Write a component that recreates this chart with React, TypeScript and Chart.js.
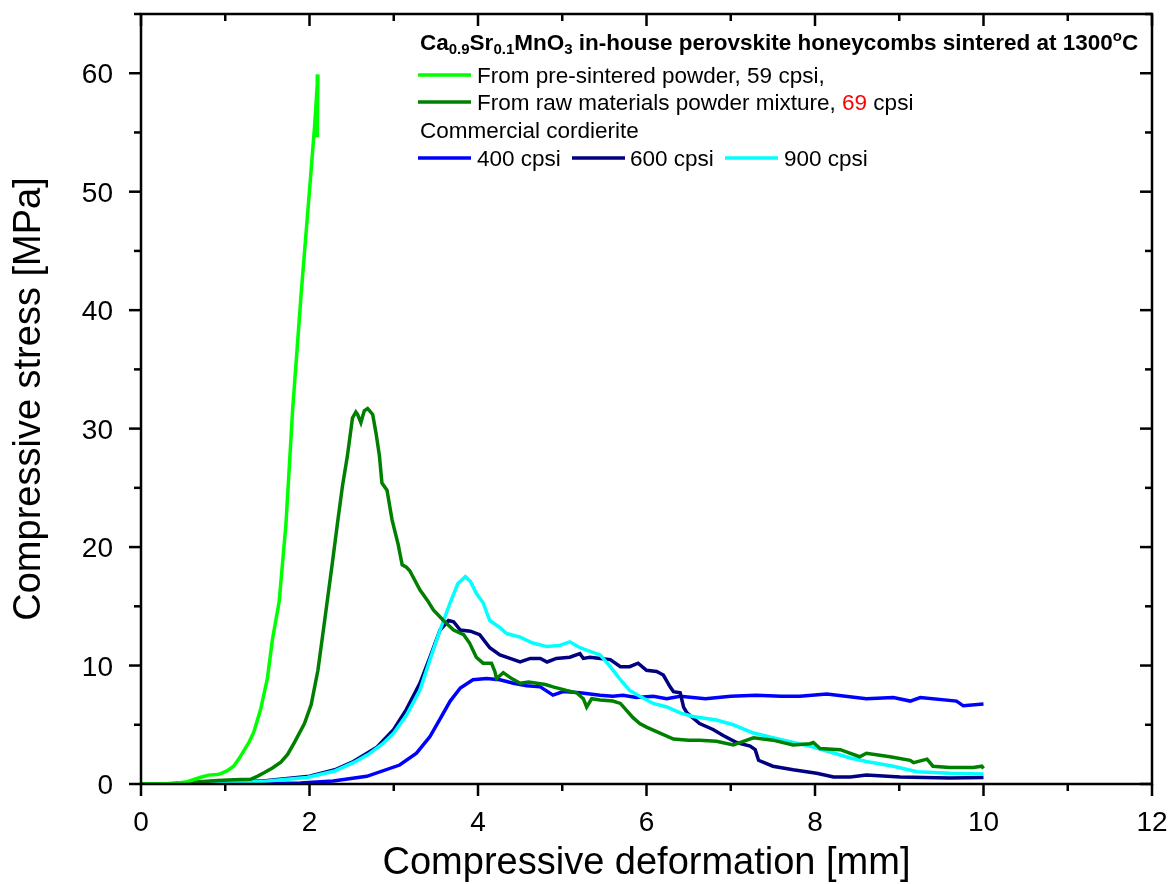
import React, { useEffect, useRef } from 'react';
import Chart from 'chart.js/auto';

// ---------- data ----------
const preSinteredX = [0, 0.2, 0.4, 0.55, 0.7, 0.8, 0.9, 0.94, 1.02, 1.1, 1.16, 1.22, 1.28, 1.34, 1.42, 1.5, 1.56, 1.64, 1.72, 1.8, 1.9, 2.01, 2.06, 2.1, 2.095, 2.09];
const preSinteredY = [0, 0, 0.05, 0.2, 0.55, 0.75, 0.8, 0.85, 1.1, 1.5, 2.1, 2.8, 3.5, 4.4, 6.3, 8.9, 12.2, 15.4, 21.9, 31.6, 41.3, 51.0, 55.5, 59.9, 57, 54.6];

const rawMixX = [0, 0.3, 0.5, 0.7, 0.9, 1.1, 1.3, 1.38, 1.46, 1.56, 1.66, 1.74, 1.82, 1.94, 2.02, 2.1, 2.18, 2.27, 2.33, 2.39, 2.45, 2.51, 2.55, 2.57, 2.61, 2.65, 2.69, 2.75, 2.79, 2.83, 2.86, 2.92, 2.98, 3.05, 3.1, 3.15, 3.19, 3.25, 3.31, 3.4, 3.47, 3.59, 3.71, 3.83, 3.9, 3.98, 4.06, 4.16, 4.2, 4.22, 4.3, 4.4, 4.5, 4.6, 4.7, 4.8, 4.89, 5.05, 5.17, 5.25, 5.29, 5.35, 5.45, 5.6, 5.69, 5.84, 5.92, 6.0, 6.16, 6.32, 6.5, 6.63, 6.83, 7.03, 7.15, 7.27, 7.5, 7.74, 7.94, 7.98, 8.06, 8.3, 8.53, 8.61, 8.89, 9.13, 9.17, 9.33, 9.4, 9.6, 9.88, 9.98, 10.0];
const rawMixY = [0, 0.02, 0.1, 0.2, 0.3, 0.35, 0.4, 0.65, 0.95, 1.35, 1.85, 2.5, 3.5, 5.1, 6.7, 9.6, 13.8, 18.6, 21.9, 25.1, 27.7, 30.9, 31.4, 31.2, 30.5, 31.5, 31.7, 31.2, 29.6, 27.7, 25.4, 24.8, 22.3, 20.3, 18.5, 18.3, 18.0, 17.2, 16.4, 15.5, 14.7, 13.8, 13.0, 12.6, 11.9, 10.7, 10.2, 10.2, 9.5, 8.9, 9.4, 8.9, 8.5, 8.6, 8.5, 8.4, 8.2, 7.9, 7.7, 7.2, 6.5, 7.2, 7.1, 7.0, 6.8, 5.6, 5.1, 4.8, 4.3, 3.8, 3.7, 3.7, 3.6, 3.3, 3.6, 3.9, 3.7, 3.3, 3.4, 3.5, 3.0, 2.9, 2.3, 2.6, 2.3, 2.0, 1.8, 2.1, 1.5, 1.4, 1.4, 1.5, 1.3];

const c400X = [0, 1.0, 1.5, 1.89, 2.28, 2.68, 3.07, 3.27, 3.43, 3.55, 3.67, 3.79, 3.94, 4.1, 4.26, 4.42, 4.58, 4.74, 4.89, 5.01, 5.21, 5.45, 5.6, 5.72, 5.88, 6.08, 6.24, 6.4, 6.7, 7.0, 7.3, 7.6, 7.82, 8.14, 8.61, 8.93, 9.13, 9.25, 9.68, 9.76, 10.0];
const c400Y = [0, 0, 0.02, 0.08, 0.25, 0.65, 1.6, 2.6, 4.0, 5.5, 7.0, 8.1, 8.8, 8.9, 8.8, 8.5, 8.3, 8.2, 7.5, 7.8, 7.7, 7.5, 7.4, 7.5, 7.3, 7.4, 7.2, 7.4, 7.2, 7.4, 7.5, 7.4, 7.4, 7.6, 7.2, 7.3, 7.0, 7.3, 7.0, 6.6, 6.75];

const c600X = [0, 0.5, 1.0, 1.5, 2.0, 2.3, 2.52, 2.8, 3.0, 3.15, 3.31, 3.43, 3.55, 3.65, 3.71, 3.79, 3.91, 4.02, 4.14, 4.26, 4.38, 4.5, 4.62, 4.74, 4.82, 4.93, 5.09, 5.21, 5.25, 5.33, 5.45, 5.57, 5.69, 5.8, 5.9, 6.0, 6.12, 6.2, 6.28, 6.32, 6.4, 6.44, 6.48, 6.63, 6.79, 6.91, 7.07, 7.23, 7.29, 7.33, 7.5, 7.74, 8.02, 8.22, 8.42, 8.61, 9.01, 9.6, 10.0];
const c600Y = [0, 0.02, 0.1, 0.3, 0.65, 1.2, 1.9, 3.1, 4.6, 6.3, 8.5, 10.7, 13.0, 13.8, 13.7, 13.0, 12.9, 12.6, 11.5, 10.9, 10.6, 10.3, 10.6, 10.6, 10.3, 10.6, 10.7, 11.0, 10.6, 10.7, 10.6, 10.5, 9.9, 9.9, 10.2, 9.6, 9.5, 9.2, 8.2, 7.8, 7.7, 6.5, 6.0, 5.1, 4.6, 4.1, 3.5, 3.2, 2.9, 2.0, 1.5, 1.2, 0.9, 0.6, 0.6, 0.76, 0.6, 0.5, 0.55];

const c900X = [0, 0.5, 1.0, 1.5, 1.97, 2.3, 2.52, 2.7, 2.87, 3.0, 3.15, 3.31, 3.43, 3.55, 3.67, 3.76, 3.85, 3.91, 3.98, 4.06, 4.14, 4.26, 4.34, 4.5, 4.65, 4.82, 4.97, 5.09, 5.21, 5.33, 5.45, 5.57, 5.69, 5.8, 5.92, 6.08, 6.24, 6.4, 6.55, 6.83, 7.03, 7.27, 7.5, 7.74, 7.94, 8.18, 8.42, 8.61, 8.93, 9.21, 9.6, 10.0];
const c900Y = [0, 0.02, 0.1, 0.25, 0.55, 1.1, 1.8, 2.5, 3.4, 4.3, 5.8, 7.9, 10.5, 13.0, 15.3, 16.9, 17.5, 17.1, 16.1, 15.3, 13.8, 13.2, 12.7, 12.4, 11.9, 11.6, 11.7, 12.0, 11.5, 11.2, 10.9, 9.9, 8.8, 7.9, 7.4, 6.8, 6.5, 6.0, 5.7, 5.4, 5.0, 4.3, 3.9, 3.5, 3.2, 2.7, 2.2, 1.9, 1.5, 1.04, 0.9, 0.85];

const xTickValues = [0, 2, 4, 6, 8, 10, 12];
const yTickValues = [0, 10, 20, 30, 40, 50, 60];
const xRange = [0, 12];
const yRange = [0, 65];

const xTitle = 'Compressive deformation [mm]';
const yTitle = 'Compressive stress [MPa]';
const seriesNames = ['From pre-sintered powder, 59 cpsi,', 'From raw materials powder mixture, 69 cpsi', '400 cpsi', '600 cpsi', '900 cpsi'];
const seriesColors = ['#00ff00', '#008000', '#0000ff', '#000080', '#00ffff'];

const FONT = '"Liberation Sans", Arial, Helvetica, sans-serif';

function pts(xs: number[], ys: number[]) {
  return xs.map((x, i) => ({ x, y: ys[i] }));
}

type Seg = { t: string; size: number; bold?: boolean; dy?: number; color?: string };

function drawSegs(ctx: CanvasRenderingContext2D, x: number, y: number, segs: Seg[]) {
  let cx = x;
  for (const s of segs) {
    ctx.font = `${s.bold ? 'bold ' : ''}${s.size}px ${FONT}`;
    ctx.fillStyle = s.color || '#000';
    ctx.textAlign = 'left';
    ctx.textBaseline = 'alphabetic';
    ctx.fillText(s.t, cx, y + (s.dy || 0));
    cx += ctx.measureText(s.t).width;
  }
  return cx;
}

const framePlugin = {
  id: 'framePlugin',
  afterDraw(chart: any) {
    const ctx: CanvasRenderingContext2D = chart.ctx;
    const { left, right, top, bottom } = chart.chartArea;
    const xs = chart.scales.x;
    const ys = chart.scales.y;
    ctx.save();
    ctx.strokeStyle = '#000';
    ctx.lineWidth = 2.5;
    ctx.lineCap = 'butt';
    ctx.strokeRect(left, top, right - left, bottom - top);
    const seg = (x1: number, y1: number, x2: number, y2: number) => {
      ctx.beginPath();
      ctx.moveTo(x1, y1);
      ctx.lineTo(x2, y2);
      ctx.stroke();
    };
    for (let v = xRange[0]; v <= xRange[1]; v += 1) {
      const px = xs.getPixelForValue(v);
      const major = xTickValues.includes(v);
      const len = major ? 12 : 7;
      seg(px, bottom, px, bottom + len);
      seg(px, top, px, top + len);
    }
    for (let v = yRange[0]; v <= yRange[1]; v += 5) {
      const py = ys.getPixelForValue(v);
      const major = yTickValues.includes(v);
      const len = major ? 12 : 7;
      seg(left, py, left - len, py);
      seg(right, py, right - len, py);
    }

    // tick labels
    ctx.fillStyle = '#000';
    ctx.font = `28px ${FONT}`;
    ctx.textBaseline = 'alphabetic';
    ctx.textAlign = 'center';
    for (const v of xTickValues) ctx.fillText(String(v), xs.getPixelForValue(v), bottom + 47);
    ctx.textAlign = 'right';
    for (const v of yTickValues) ctx.fillText(String(v), left - 28, ys.getPixelForValue(v) + 10);

    // axis titles
    ctx.font = `38px ${FONT}`;
    ctx.textAlign = 'center';
    ctx.fillText(xTitle, (left + right) / 2, 874);
    ctx.save();
    ctx.translate(40, (top + bottom) / 2);
    ctx.rotate(-Math.PI / 2);
    ctx.fillText(yTitle, 0, 0);
    ctx.restore();

    // legend
    const fs = 22.5;
    const bs = 22.5;
    const ss = 15;
    drawSegs(ctx, 420, 50, [
      { t: 'Ca', size: bs, bold: true },
      { t: '0.9', size: ss, bold: true, dy: 4 },
      { t: 'Sr', size: bs, bold: true },
      { t: '0.1', size: ss, bold: true, dy: 4 },
      { t: 'MnO', size: bs, bold: true },
      { t: '3', size: ss, bold: true, dy: 4 },
      { t: ' in-house perovskite honeycombs sintered at 1300', size: bs, bold: true },
      { t: 'o', size: ss, bold: true, dy: -9 },
      { t: 'C', size: bs, bold: true },
    ]);
    const sample = (x: number, y: number, color: string) => {
      ctx.strokeStyle = color;
      ctx.lineWidth = 3.5;
      seg(x, y, x + 53, y);
    };
    sample(418, 75, seriesColors[0]);
    drawSegs(ctx, 477, 83, [{ t: seriesNames[0], size: fs }]);
    sample(418, 102, seriesColors[1]);
    const parts = seriesNames[1].split('69');
    drawSegs(ctx, 477, 110, [
      { t: parts[0], size: fs },
      { t: '69', size: fs, color: '#ff0000' },
      { t: parts[1], size: fs },
    ]);
    drawSegs(ctx, 420, 138, [{ t: 'Commercial cordierite', size: fs }]);
    sample(418, 158, seriesColors[2]);
    drawSegs(ctx, 477, 166, [{ t: seriesNames[2], size: fs }]);
    sample(572, 158, seriesColors[3]);
    drawSegs(ctx, 630, 166, [{ t: seriesNames[3], size: fs }]);
    sample(725, 158, seriesColors[4]);
    drawSegs(ctx, 784, 166, [{ t: seriesNames[4], size: fs }]);
    ctx.restore();
  },
};

export default function App() {
  const ref = useRef<HTMLCanvasElement | null>(null);
  useEffect(() => {
    if (!ref.current) return;
    const mk = (i: number, xs: number[], ys: number[]) => ({
      label: seriesNames[i],
      data: pts(xs, ys),
      borderColor: seriesColors[i],
      backgroundColor: seriesColors[i],
      borderWidth: 3.5,
      pointRadius: 0,
      showLine: true,
      tension: 0,
      fill: false,
    });
    const chart = new Chart(ref.current, {
      type: 'scatter',
      data: {
        datasets: [
          mk(0, preSinteredX, preSinteredY),
          mk(1, rawMixX, rawMixY),
          mk(4, c900X, c900Y),
          mk(3, c600X, c600Y),
          mk(2, c400X, c400Y),
        ],
      },
      options: {
        responsive: false,
        animation: false,
        devicePixelRatio: 1,
        layout: { padding: { left: 0, top: 14, right: 19, bottom: 0 } },
        plugins: { legend: { display: false }, tooltip: { enabled: false }, title: { display: false } },
        scales: {
          x: {
            type: 'linear',
            min: xRange[0],
            max: xRange[1],
            grid: { display: false, drawTicks: false },
            border: { display: false },
            afterFit: (s: any) => { s.height = 100; },
            afterBuildTicks: (s: any) => { s.ticks = xTickValues.map((v) => ({ value: v })); },
            ticks: { display: false },
          },
          y: {
            type: 'linear',
            min: yRange[0],
            max: yRange[1],
            grid: { display: false, drawTicks: false },
            border: { display: false },
            afterFit: (s: any) => { s.width = 141; },
            afterBuildTicks: (s: any) => { s.ticks = yTickValues.map((v) => ({ value: v })); },
            ticks: { display: false },
          },
        },
      },
      plugins: [framePlugin],
    });
    return () => chart.destroy();
  }, []);
  return (
    <div style={{ position: 'absolute', left: 0, top: 0, width: 1171, height: 884, background: '#fff' }}>
      <canvas ref={ref} width={1171} height={884} style={{ width: 1171, height: 884, display: 'block' }} />
    </div>
  );
}
